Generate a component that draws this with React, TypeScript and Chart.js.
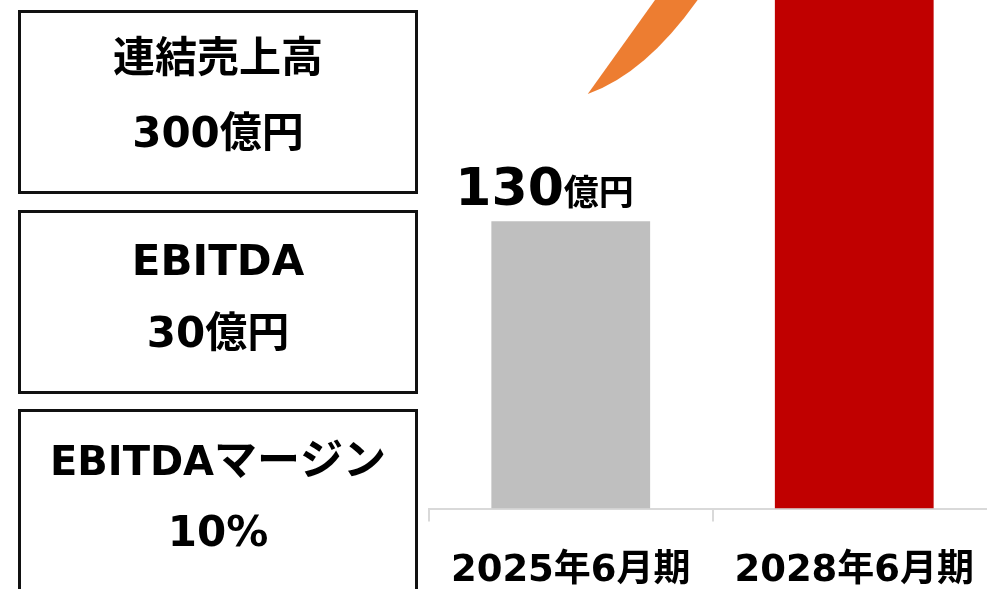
import React, { useEffect, useRef } from "react";
import { Chart, registerables } from "chart.js";

Chart.register(...registerables);

// ---- data ----
const categories = ["2025年6月期", "2028年6月期"];
const revenue = [130, 300];
const barColors = ["#bfbfbf", "#c00000"];
const valueUnit = "億円";
const kpiTitles = ["連結売上高", "EBITDA", "EBITDAマージン"];
const kpiValues = ["300億円", "30億円", "10%"];

const LATIN = '"DejaVu Sans"';
const CJK = '"Noto Sans CJK JP"';

type Run = { text: string; cjk: boolean; font?: string; w?: number };

function splitRuns(text: string): Run[] {
  const runs: Run[] = [];
  for (const ch of text) {
    const cjk = /[\u3000-\u9fff\uff00-\uffef]/.test(ch);
    const last = runs[runs.length - 1];
    if (last && last.cjk === cjk) last.text += ch;
    else runs.push({ text: ch, cjk });
  }
  return runs;
}

function drawMixed(
  ctx: CanvasRenderingContext2D,
  text: string,
  cx: number,
  baseline: number,
  latinSize: number,
  cjkSize: number
) {
  const runs = splitRuns(text);
  let total = 0;
  runs.forEach((r) => {
    r.font = r.cjk ? `bold ${cjkSize}px ${CJK}` : `bold ${latinSize}px ${LATIN}`;
    ctx.font = r.font;
    r.w = ctx.measureText(r.text).width;
    total += r.w;
  });
  let x = cx - total / 2;
  ctx.textAlign = "left";
  ctx.textBaseline = "alphabetic";
  runs.forEach((r) => {
    ctx.font = r.font as string;
    ctx.fillText(r.text, x, baseline);
    x += r.w as number;
  });
}

// KPI boxes drawn on the left padding area of the canvas
const kpiPlugin = {
  id: "kpiBoxes",
  beforeDraw(chart: any) {
    const ctx: CanvasRenderingContext2D = chart.ctx;
    const tops = [10, 210, 409];
    const titleOffsets = [62, 65, 66];
    const titleLatinSizes = [42, 42, 40];
    const titleCjkSizes = [42, 42, 43];
    const left = 18;
    const width = 400;
    const height = 184;
    const cx = left + width / 2;
    ctx.save();
    ctx.fillStyle = "#ffffff";
    ctx.fillRect(0, 0, chart.width, chart.height);
    tops.forEach((top, i) => {
      ctx.strokeStyle = "#111111";
      ctx.lineWidth = 3;
      ctx.strokeRect(left + 1.5, top + 1.5, width - 3, height - 3);
      ctx.fillStyle = "#000000";
      drawMixed(ctx, kpiTitles[i], cx, top + titleOffsets[i], titleLatinSizes[i], titleCjkSizes[i]);
      drawMixed(ctx, kpiValues[i], cx, top + 137, 42, 42);
    });
    ctx.restore();
  },
};

// orange swoosh arrow, defined in scale units
const arrowPlugin = {
  id: "arrow",
  beforeDatasetsDraw(chart: any) {
    const xs = chart.scales.x;
    const ys = chart.scales.y;
    const x0 = xs.getPixelForValue(0);
    const cw = xs.getPixelForValue(1) - x0;
    const px = (i: number) => x0 + i * cw;
    const py = (v: number) => ys.getPixelForValue(v);
    const ctx: CanvasRenderingContext2D = chart.ctx;
    ctx.save();
    ctx.fillStyle = "#ed7d31";
    ctx.beginPath();
    ctx.moveTo(px(0.06), py(187.5));
    ctx.quadraticCurveTo(px(0.27), py(197), px(0.46), py(232.3));
    ctx.lineTo(px(0.31), py(232.3));
    ctx.closePath();
    ctx.fill();
    ctx.restore();
  },
};

const labelPlugin = {
  id: "valueLabels",
  afterDatasetsDraw(chart: any) {
    const ctx: CanvasRenderingContext2D = chart.ctx;
    const meta = chart.getDatasetMeta(0);
    meta.data.forEach((bar: any, i: number) => {
      const num = String(revenue[i]);
      ctx.save();
      ctx.fillStyle = "#000000";
      ctx.textAlign = "left";
      ctx.textBaseline = "alphabetic";
      ctx.font = `bold 52px ${LATIN}`;
      const w1 = ctx.measureText(num).width;
      ctx.font = `bold 35px ${CJK}`;
      const w2 = ctx.measureText(valueUnit).width;
      const cx = bar.x - 0.165 * bar.width;
      const start = cx - (w1 + w2) / 2;
      const base = bar.y - 16;
      ctx.font = `bold 52px ${LATIN}`;
      ctx.fillText(num, start, base);
      ctx.font = `bold 35px ${CJK}`;
      ctx.fillText(valueUnit, start + w1, base);
      ctx.restore();
    });
  },
};

export default function App() {
  const ref = useRef<HTMLCanvasElement | null>(null);

  useEffect(() => {
    if (!ref.current) return;
    const chart = new Chart(ref.current, {
      type: "bar",
      data: {
        labels: categories,
        datasets: [
          {
            data: revenue,
            backgroundColor: barColors,
            borderWidth: 0,
            categoryPercentage: 1,
            barPercentage: 0.56,
          },
        ],
      },
      options: {
        responsive: false,
        animation: false,
        devicePixelRatio: 1,
        layout: { padding: { left: 429, right: 14, top: 0, bottom: 8 } },
        plugins: {
          legend: { display: false },
          tooltip: { enabled: false },
        },
        scales: {
          x: {
            grid: {
              display: true,
              offset: true,
              drawOnChartArea: false,
              drawTicks: true,
              tickLength: 13,
              color: "#d9d9d9",
              lineWidth: 2,
            },
            border: { display: true, color: "#d9d9d9", width: 2 },
            ticks: {
              color: "#000000",
              padding: 28,
              maxRotation: 0,
              autoSkip: false,
              font: { family: `${LATIN}, ${CJK}`, size: 37, weight: "bold" },
            },
          },
          y: { display: false, min: 0, max: 230 },
        },
      },
      plugins: [kpiPlugin, arrowPlugin, labelPlugin],
    } as any);
    return () => chart.destroy();
  }, []);

  return (
    <div
      style={{
        position: "absolute",
        left: 0,
        top: 0,
        width: 987,
        height: 589,
        overflow: "hidden",
        background: "#ffffff",
      }}
    >
      <canvas
        ref={ref}
        width={1010}
        height={630}
        style={{ position: "absolute", left: 0, top: 0, width: 1010, height: 630 }}
      />
    </div>
  );
}
